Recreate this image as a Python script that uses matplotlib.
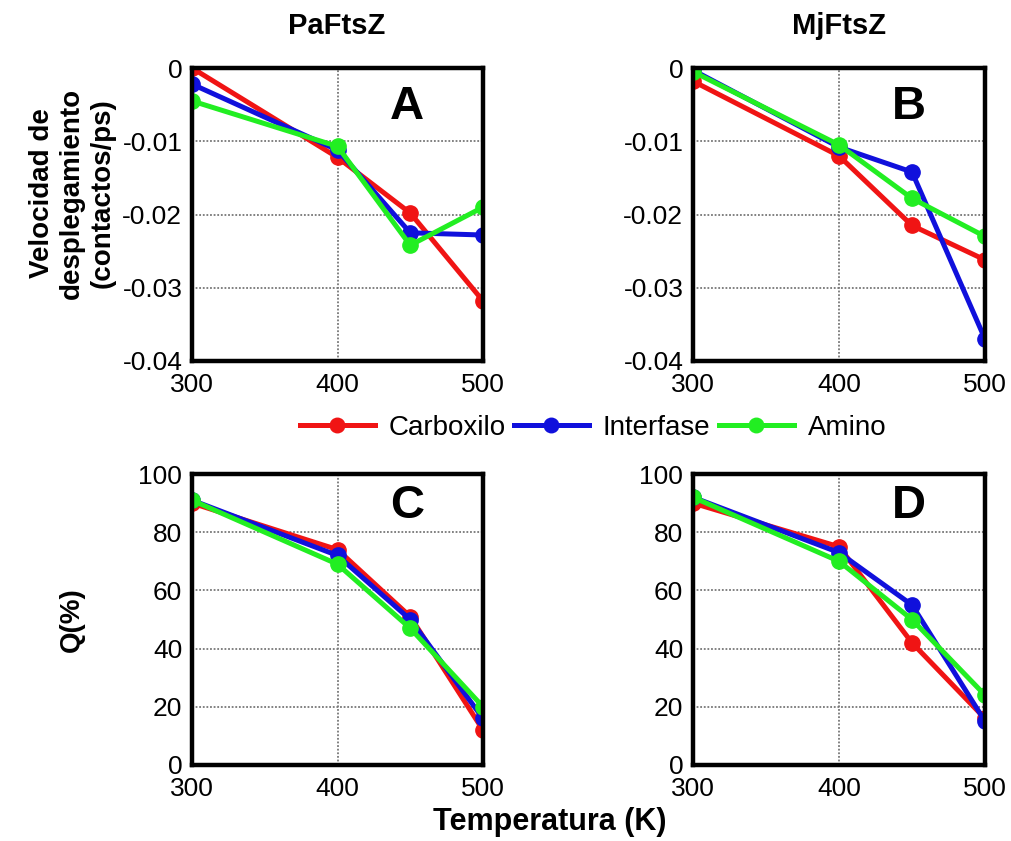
import numpy as np
import matplotlib
matplotlib.use('Agg')
import matplotlib.pyplot as plt

plt.rcParams['font.family'] = ['Liberation Sans', 'DejaVu Sans']

# Temperaturas (K)
temps = [300, 400, 450, 500]

# Velocidad de desplegamiento (contactos/ps)
pa_vel_carboxilo = [0.0, -0.0122, -0.0198, -0.0318]
pa_vel_interfase = [-0.0022, -0.0112, -0.0225, -0.0228]
pa_vel_amino = [-0.0045, -0.0107, -0.0242, -0.0190]

mj_vel_carboxilo = [-0.0018, -0.0120, -0.0215, -0.0262]
mj_vel_interfase = [-0.0003, -0.0108, -0.0142, -0.0370]
mj_vel_amino = [-0.0005, -0.0105, -0.0178, -0.0230]

# Q(%)
pa_q_carboxilo = [90, 74, 51, 12]
pa_q_interfase = [91, 72, 50, 16]
pa_q_amino = [91, 69, 47, 20]

mj_q_carboxilo = [90, 75, 42, 16]
mj_q_interfase = [92, 73, 55, 15]
mj_q_amino = [92, 70, 50, 24]

series_names = ['Carboxilo', 'Interfase', 'Amino']
colors = ['#f01414', '#1010dc', '#22ee22']

fig = plt.figure(figsize=(10.11, 8.41), dpi=100)

W, H = 1011.0, 841.0
def box(l, t, r, b):
    return [l / W, 1 - b / H, (r - l) / W, (b - t) / H]

ax_a = fig.add_axes(box(192, 68, 483, 361))
ax_b = fig.add_axes(box(693, 68, 985, 361))
ax_c = fig.add_axes(box(192, 474, 483, 765))
ax_d = fig.add_axes(box(693, 474, 985, 765))

panels = [
    (ax_a, [pa_vel_carboxilo, pa_vel_interfase, pa_vel_amino], 'A', 'vel'),
    (ax_b, [mj_vel_carboxilo, mj_vel_interfase, mj_vel_amino], 'B', 'vel'),
    (ax_c, [pa_q_carboxilo, pa_q_interfase, pa_q_amino], 'C', 'q'),
    (ax_d, [mj_q_carboxilo, mj_q_interfase, mj_q_amino], 'D', 'q'),
]

handles = []
for ax, data, letter, kind in panels:
    for vals, name, c in zip(data, series_names, colors):
        h, = ax.plot(temps, vals, '-o', color=c, lw=3.6, ms=11, label=name)
        if ax is ax_a:
            handles.append(h)
    ax.set_xlim(300, 500)
    ax.set_xticks([300, 400, 500])
    if kind == 'vel':
        ax.set_ylim(-0.04, 0)
        ax.set_yticks([-0.04, -0.03, -0.02, -0.01, 0])
        ax.set_yticklabels(['-0.04', '-0.03', '-0.02', '-0.01', '0'])
        ly = 0.867
    else:
        ax.set_ylim(0, 100)
        ax.set_yticks([0, 20, 40, 60, 80, 100])
        ly = 0.89
    ax.grid(True, ls=(0, (1, 1)), color='#777777', lw=1.3)
    ax.tick_params(length=0, labelsize=19)
    ax.tick_params(axis='x', pad=9)
    ax.tick_params(axis='y', pad=7)
    for s in ax.spines.values():
        s.set_linewidth(3.2)
    ax.text(0.74, ly, letter, transform=ax.transAxes, fontsize=34,
            fontweight='bold', ha='center', va='center')

fig.text(337 / W, 1 - 26 / H, 'PaFtsZ', fontsize=21, fontweight='bold',
         ha='center', va='center')
fig.text(839 / W, 1 - 26 / H, 'MjFtsZ', fontsize=21, fontweight='bold',
         ha='center', va='center')

fig.text(72 / W, 1 - 193 / H, 'Velocidad de\ndesplegamiento\n(contactos/ps)',
         fontsize=20, fontweight='bold', ha='center', va='center', rotation=90,
         linespacing=1.22)
fig.text(72 / W, 1 - 620 / H, 'Q(%)', fontsize=20, fontweight='bold',
         ha='center', va='center', rotation=90)
fig.text(550 / W, 1 - 822 / H, 'Temperatura (K)', fontsize=22,
         fontweight='bold', ha='center', va='center')

fig.legend(handles=handles, loc='center', bbox_to_anchor=(593 / W, 1 - 428 / H),
           ncol=3, frameon=False, fontsize=20, handlelength=2.7,
           columnspacing=0.3, handletextpad=0.5, markerscale=0.95,
           borderpad=0.1)

fig.savefig('out.png', dpi=100)
